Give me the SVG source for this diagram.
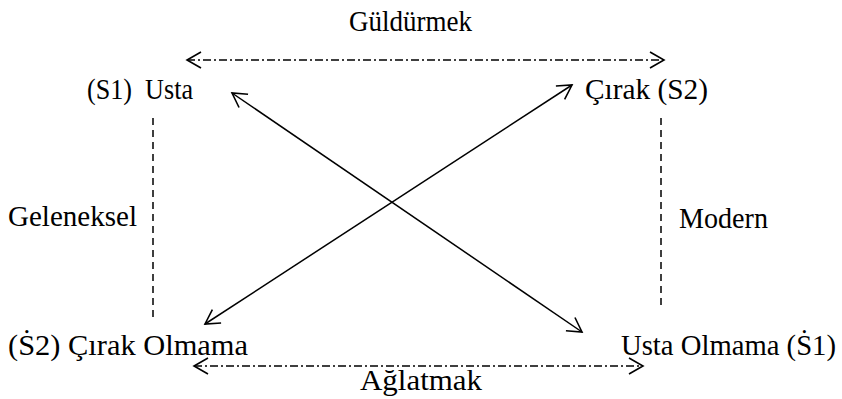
<svg xmlns="http://www.w3.org/2000/svg" width="842" height="399" viewBox="0 0 842 399">
<style>
text{font-family:"Liberation Serif","Times New Roman",serif;font-size:29px;fill:#000}
.c{stroke:#000;stroke-width:1.5;fill:none}
.dd{stroke-dasharray:8,3,2,3}
.d{stroke-dasharray:7,5}
</style>
<defs>
<marker id="a" markerWidth="18" markerHeight="18" refX="15" refY="9" orient="auto-start-reverse" markerUnits="userSpaceOnUse">
<path d="M1,1 L15,9 L1,17" fill="none" stroke="#000" stroke-width="1.6"/>
</marker>
</defs>
<rect width="842" height="399" fill="#fff"/>
<g id="connectors">
<line class="c dd" x1="187" y1="60" x2="664" y2="60" marker-start="url(#a)" marker-end="url(#a)"/>
<line class="c dd" x1="194" y1="366" x2="643" y2="366" marker-start="url(#a)" marker-end="url(#a)"/>
<line class="c d" x1="153" y1="118" x2="153" y2="322"/>
<line class="c d" x1="661" y1="118" x2="661" y2="306"/>
<line class="c" x1="232" y1="93" x2="582" y2="332" marker-start="url(#a)" marker-end="url(#a)"/>
<line class="c" x1="572" y1="85" x2="205" y2="324" marker-start="url(#a)" marker-end="url(#a)"/>
</g>
<g id="s1"><text x="87" y="99" textLength="106" lengthAdjust="spacingAndGlyphs" xml:space="preserve">(S1)  Usta</text></g>
<g id="s2"><text x="585" y="99" textLength="123" lengthAdjust="spacingAndGlyphs">Çırak (S2)</text></g>
<g id="notS2"><text x="8" y="355" textLength="240" lengthAdjust="spacingAndGlyphs">(Ṡ2) Çırak Olmama</text></g>
<g id="notS1"><text x="621" y="355" textLength="215" lengthAdjust="spacingAndGlyphs">Usta Olmama (Ṡ1)</text></g>
<g id="guldurmek"><text x="349" y="31" textLength="123" lengthAdjust="spacingAndGlyphs">Güldürmek</text></g>
<g id="aglatmak"><text x="360" y="390" textLength="122" lengthAdjust="spacingAndGlyphs">Ağlatmak</text></g>
<g id="geleneksel"><text x="8" y="226" textLength="129" lengthAdjust="spacingAndGlyphs">Geleneksel</text></g>
<g id="modern"><text x="679" y="228" textLength="89" lengthAdjust="spacingAndGlyphs">Modern</text></g>
</svg>
